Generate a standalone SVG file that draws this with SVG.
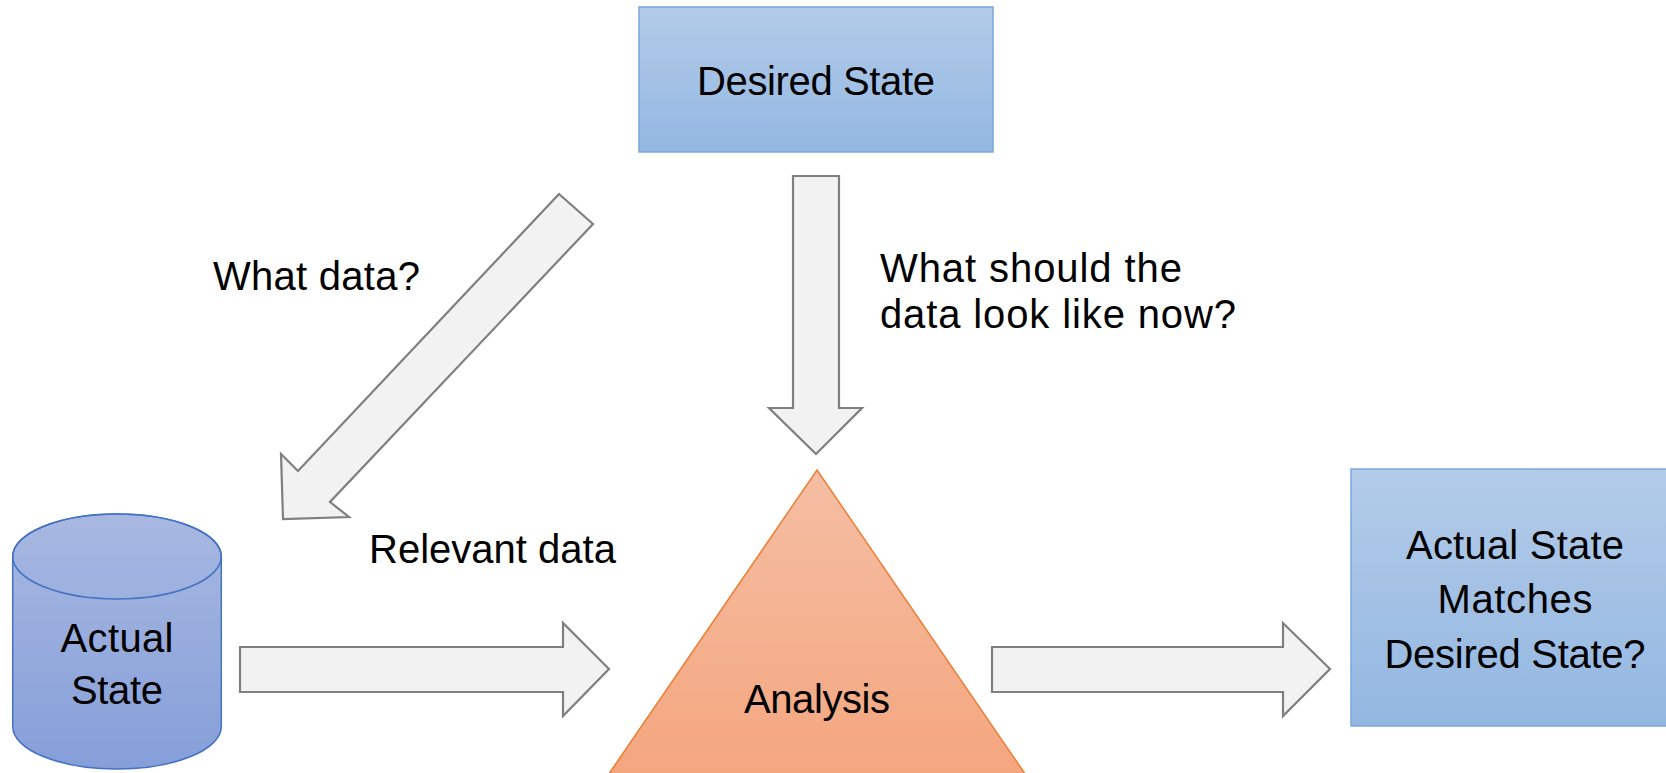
<svg xmlns="http://www.w3.org/2000/svg" width="1666" height="773" viewBox="0 0 1666 773">
<defs>
<style>
.lbl{font-family:"Liberation Sans","Open Sans",Arial,sans-serif;font-size:40px;fill:#000}
.mid{text-anchor:middle}
.arrow{fill:#f2f2f2;stroke:#7f7f7f;stroke-width:2.2;stroke-linejoin:miter}
</style>
<linearGradient id="gBlue" x1="0" y1="0" x2="0" y2="1">
<stop offset="0" stop-color="#b3cbe9"/>
<stop offset="1" stop-color="#93b7e1"/>
</linearGradient>
<linearGradient id="gCyl" x1="0" y1="0" x2="0" y2="1">
<stop offset="0" stop-color="#a8b8e1"/>
<stop offset="1" stop-color="#869fd9"/>
</linearGradient>
<linearGradient id="gTri" gradientUnits="userSpaceOnUse" x1="0" y1="470" x2="0" y2="773">
<stop offset="0" stop-color="#f5bea4"/>
<stop offset="1" stop-color="#f4a67f"/>
</linearGradient>
</defs>
<rect width="1666" height="773" fill="#ffffff"/>

<g id="connectors">
<polygon class="arrow" points="559,194 593,224 330,502 349,517 283,519 281,454 298,471"/>
<polygon class="arrow" points="793,176 839,176 839,408 862,408 816,454 769,408 793,408"/>
<polygon class="arrow" points="240,647 563,647 563,623 609,669 563,716 563,692 240,692"/>
<polygon class="arrow" points="992,647 1283,647 1283,623 1330,669 1283,716 1283,692 992,692"/>
<text class="lbl" x="213" y="290" textLength="207">What data?</text>
<text class="lbl" x="880" y="282" textLength="302">What should the</text>
<text class="lbl" x="880" y="328" textLength="356">data look like now?</text>
<text class="lbl" x="369" y="563" textLength="247">Relevant data</text>
</g>

<g id="desired-state">
<rect x="639" y="7" width="354" height="145" fill="url(#gBlue)" stroke="#7ba7dc" stroke-width="1.5"/>
<text class="lbl mid" x="816" y="95" textLength="238">Desired State</text>
</g>

<g id="actual-state">
<path d="M12.7,556.5 L12.7,726.5 A104.3,42.5 0 0 0 221.3,726.5 L221.3,556.5 A104.3,42.5 0 0 0 12.7,556.5 Z" fill="url(#gCyl)" stroke="#4472c4" stroke-width="1.5"/>
<ellipse cx="117" cy="556.5" rx="104.3" ry="42.5" fill="none" stroke="#4472c4" stroke-width="1.5"/>
<text class="lbl mid" x="117" y="652" textLength="113">Actual</text>
<text class="lbl mid" x="117" y="704" textLength="92">State</text>
</g>

<g id="analysis">
<polygon points="817,470 1043,800 591,800" fill="url(#gTri)" stroke="#ed7d31" stroke-width="1.5"/>
<text class="lbl mid" x="817" y="713" textLength="146">Analysis</text>
</g>

<g id="result">
<rect x="1351" y="469" width="340" height="257" fill="url(#gBlue)" stroke="#7ba7dc" stroke-width="1.5"/>
<text class="lbl mid" x="1515" y="559" textLength="218">Actual State</text>
<text class="lbl mid" x="1515" y="613" textLength="155">Matches</text>
<text class="lbl mid" x="1515" y="668" textLength="261">Desired State?</text>
</g>
</svg>
